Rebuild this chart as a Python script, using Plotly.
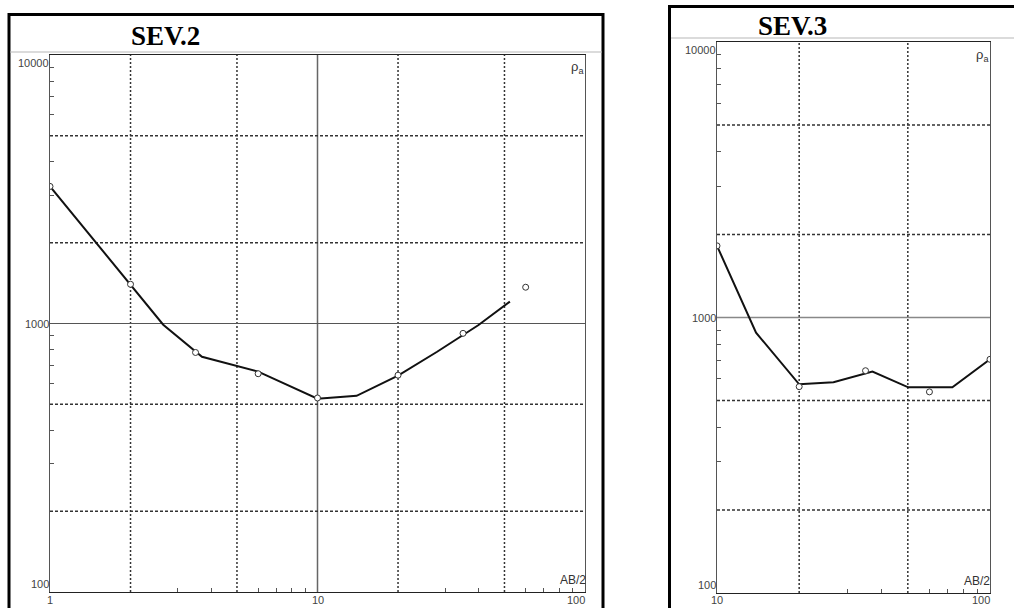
import math
import plotly.graph_objects as go

# ---- data ----
sev2_ab2 = [1, 2, 3.5, 6, 10, 20, 35, 60]
sev2_rho = [3240, 1400, 780, 650, 528, 642, 919, 1365]
sev2_model_ab2 = [1, 2.65, 3.7, 6.0, 10, 14, 20, 28, 40, 52.4]
sev2_model_rho = [3240, 990, 752, 662, 525, 538, 640, 785, 987, 1206]

sev3_ab2 = [10, 20, 35, 60, 100]
sev3_rho = [1820, 561, 641, 537, 705]
sev3_model_ab2 = [10, 13.9, 20, 26.7, 37.1, 50.2, 72.8, 100]
sev3_model_rho = [1820, 881, 572, 582, 636, 558, 558, 705]

titles = ["SEV.2", "SEV.3"]
x_ticks_left = [1, 10, 100]
x_ticks_right = [10, 100]
y_ticks = [100, 1000, 10000]
x_dash_left = [2, 5, 20, 50]
x_solid_left = [10]
x_dash_right = [20, 50]
y_dash = [200, 500, 2000, 5000]
y_solid = [1000]
x_minor_left = [3, 4, 6, 7, 8, 9, 30, 40, 60, 70, 80, 90]
x_minor_right = [30, 40, 60, 70, 80, 90]
y_minor = [300, 400, 600, 700, 800, 900, 3000, 4000, 6000, 7000, 8000, 9000]

W, H = 1014, 608
def px(x): return x / W
def py(y): return 1 - y / H

fig = go.Figure()
line_style = dict(color="#111111", width=2)
mk = dict(symbol="circle", size=6, color="white", line=dict(color="#333333", width=1))

fig.add_trace(go.Scatter(x=sev2_model_ab2, y=sev2_model_rho, mode="lines", line=line_style,
                         xaxis="x", yaxis="y", showlegend=False, hoverinfo="skip"))
fig.add_trace(go.Scatter(x=sev2_ab2, y=sev2_rho, mode="markers", marker=mk,
                         xaxis="x", yaxis="y", showlegend=False))
fig.add_trace(go.Scatter(x=sev3_model_ab2, y=sev3_model_rho, mode="lines", line=line_style,
                         xaxis="x2", yaxis="y2", showlegend=False, hoverinfo="skip"))
fig.add_trace(go.Scatter(x=sev3_ab2, y=sev3_rho, mode="markers", marker=mk,
                         xaxis="x2", yaxis="y2", showlegend=False))

tickfont = dict(family="Liberation Sans, Arial", size=11, color="#444444")

def xaxis_cfg(domain, rng, minor_vals, anchor):
    return dict(type="log", domain=domain, range=rng, anchor=anchor, automargin=False,
                showticklabels=False,
                showgrid=False, zeroline=False, showline=True, mirror=True,
                linecolor="#222222", linewidth=1, ticks="",
                minor=dict(tickvals=minor_vals, ticks="inside", ticklen=4,
                           tickcolor="#555555", showgrid=False))

def yaxis_cfg(domain, anchor):
    return dict(type="log", domain=domain, range=[2, 4], anchor=anchor, automargin=False,
                showticklabels=False,
                showgrid=False, zeroline=False, showline=True, mirror=True,
                linecolor="#555555", linewidth=1, ticks="",
                minor=dict(tickvals=y_minor, ticks="inside", ticklen=4,
                           tickcolor="#555555", showgrid=False))

L_X0, L_X1, L_Y0, L_Y1 = 50, 585, 592, 55
R_X0, R_X1, R_Y0, R_Y1 = 717, 990, 593, 42

fig.update_layout(
    width=W, height=H,
    margin=dict(l=0, r=0, t=0, b=0, autoexpand=False),
    paper_bgcolor="white", plot_bgcolor="white",
    xaxis=xaxis_cfg([px(L_X0), px(L_X1)], [0, 2], x_minor_left, "y"),
    yaxis=yaxis_cfg([py(L_Y0), py(L_Y1)], "x"),
    xaxis2=xaxis_cfg([px(R_X0), px(R_X1)], [1, 2], x_minor_right, "y2"),
    yaxis2=yaxis_cfg([py(R_Y0), py(R_Y1)], "x2"),
)

shapes = []
dash_v = "2px,2px"
dash_h = "3px,2px"
for v in x_dash_left:
    shapes.append(dict(type="line", xref="x", yref="y domain", x0=v, x1=v, y0=0, y1=1,
                       line=dict(color="#333333", width=1.5, dash=dash_v), layer="below"))
for v in x_solid_left:
    shapes.append(dict(type="line", xref="x", yref="y domain", x0=v, x1=v, y0=0, y1=1,
                       line=dict(color="#666666", width=1.5), layer="below"))
for v in y_dash:
    shapes.append(dict(type="line", xref="x domain", yref="y", x0=0, x1=1, y0=v, y1=v,
                       line=dict(color="#333333", width=1.5, dash=dash_h), layer="below"))
for v in y_solid:
    shapes.append(dict(type="line", xref="x domain", yref="y", x0=0, x1=1, y0=v, y1=v,
                       line=dict(color="#555555", width=1.2), layer="below"))
for v in x_dash_right:
    shapes.append(dict(type="line", xref="x2", yref="y2 domain", x0=v, x1=v, y0=0, y1=1,
                       line=dict(color="#333333", width=1.5, dash=dash_v), layer="below"))
for v in y_dash:
    shapes.append(dict(type="line", xref="x2 domain", yref="y2", x0=0, x1=1, y0=v, y1=v,
                       line=dict(color="#333333", width=1.5, dash=dash_h), layer="below"))
for v in y_solid:
    shapes.append(dict(type="line", xref="x2 domain", yref="y2", x0=0, x1=1, y0=v, y1=v,
                       line=dict(color="#888888", width=1.5), layer="below"))

# outer frames
shapes.append(dict(type="rect", xref="paper", yref="paper", x0=px(9), x1=px(603), y0=-0.05, y1=py(14.5),
                   line=dict(color="black", width=3), fillcolor="rgba(0,0,0,0)"))
shapes.append(dict(type="rect", xref="paper", yref="paper", x0=px(669.5), x1=1.05, y0=-0.05, y1=py(6.5),
                   line=dict(color="black", width=3), fillcolor="rgba(0,0,0,0)"))
shapes.append(dict(type="line", xref="paper", yref="paper", x0=px(10.5), x1=px(601.5), y0=py(52), y1=py(52),
                   line=dict(color="#cfcfcf", width=1.5)))
shapes.append(dict(type="line", xref="paper", yref="paper", x0=px(671), x1=1, y0=py(38), y1=py(38),
                   line=dict(color="#cfcfcf", width=1.5)))
fig.update_layout(shapes=shapes)

label_font = dict(family="Liberation Sans, Arial", size=13, color="#333333")
ab_font = dict(family="Liberation Sans, Arial", size=12, color="#333333")
title_font = dict(family="Liberation Serif, Times New Roman", size=27, color="black")
annotations = [
    dict(text="<b>" + titles[0] + "</b>", x=px(165), y=py(36), xref="paper", yref="paper",
         showarrow=False, font=title_font, xanchor="center", yanchor="middle"),
    dict(text="<b>" + titles[1] + "</b>", x=px(792), y=py(26), xref="paper", yref="paper",
         showarrow=False, font=title_font, xanchor="center", yanchor="middle"),
    dict(text="ρ<sub>a</sub>", x=px(586), y=py(68), xref="paper", yref="paper",
         showarrow=False, font=label_font, xanchor="right", yanchor="middle"),
    dict(text="ρ<sub>a</sub>", x=px(991), y=py(55), xref="paper", yref="paper",
         showarrow=False, font=label_font, xanchor="right", yanchor="middle"),
    dict(text="AB/2", x=px(588), y=py(580), xref="paper", yref="paper",
         showarrow=False, font=ab_font, xanchor="right", yanchor="middle"),
    dict(text="AB/2", x=px(992), y=py(581), xref="paper", yref="paper",
         showarrow=False, font=ab_font, xanchor="right", yanchor="middle"),
]

# x tick labels (positions on the log axes are log10 of the values)
def add_x_labels(ticks, xref, right_edge_val):
    for v in ticks:
        annotations.append(dict(text=str(v), x=math.log10(v), xref=xref, y=py(600), yref="paper",
                                yanchor="middle", xanchor="right" if v == right_edge_val else "center",
                                xshift=2 if v == right_edge_val else 0,
                                showarrow=False, font=tickfont))
add_x_labels(x_ticks_left, "x", 100)
add_x_labels(x_ticks_right, "x2", 100)

# y tick labels
def add_y_labels(yref, x_axis_px):
    for v in y_ticks:
        anchor = "top" if v == max(y_ticks) else ("bottom" if v == min(y_ticks) else "middle")
        annotations.append(dict(text=str(v), x=px(x_axis_px), xref="paper", y=math.log10(v), yref=yref,
                                xanchor="right", yanchor=anchor, xshift=1, showarrow=False,
                                font=tickfont))
add_y_labels("y", L_X0)
add_y_labels("y2", R_X0)

fig.update_layout(annotations=annotations, hovermode=False)

fig.write_html("out.html", config={"displayModeBar": False},
               post_script="document.body.style.margin='0';document.body.style.overflow='hidden';")
